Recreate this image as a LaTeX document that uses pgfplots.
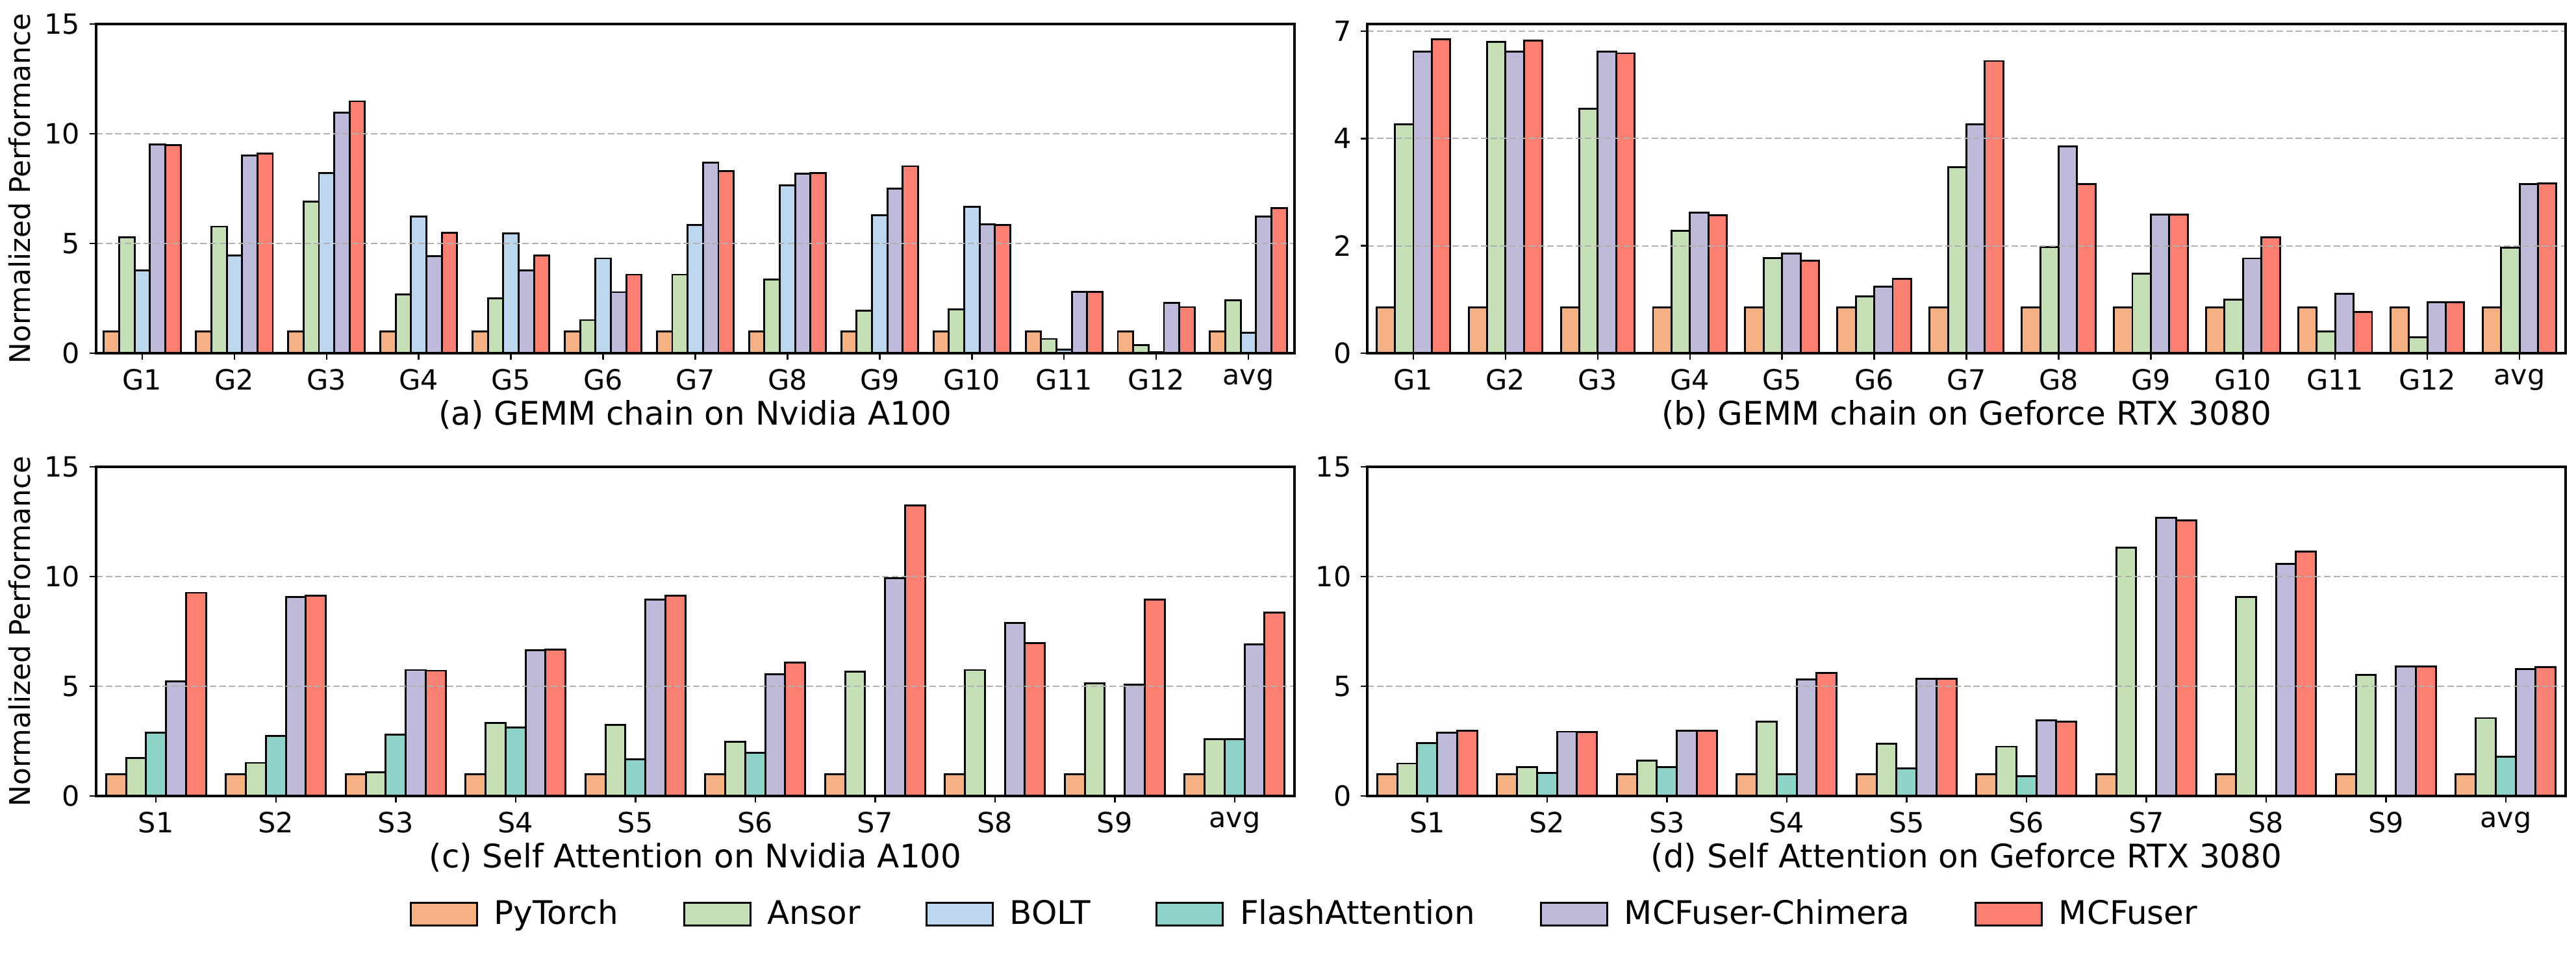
\documentclass[border=0pt]{standalone}
\usepackage{fontspec}
\setmainfont{DejaVu Sans}
\usepackage{pgfplots}
\usepackage{pgfplotstable}
\pgfplotsset{compat=1.18}

\definecolor{cPT}{HTML}{F4B183}
\definecolor{cAN}{HTML}{C5E0B4}
\definecolor{cBO}{HTML}{BDD7EE}
\definecolor{cFA}{HTML}{8DD3C7}
\definecolor{cCH}{HTML}{BEBADA}
\definecolor{cMC}{HTML}{FB8072}
\definecolor{gridgray}{HTML}{B0B0B0}

% (a) GEMM chain, A100
\pgfplotstableread{
x pt ansor bolt chim mcf
0 1 5.27 3.76 9.50 9.47
1 1 5.77 4.44 9.02 9.11
2 1 6.92 8.22 10.95 11.48
3 1 2.69 6.24 4.41 5.50
4 1 2.51 5.47 3.76 4.44
5 1 1.51 4.32 2.78 3.58
6 1 3.58 5.83 8.68 8.31
7 1 3.37 7.66 8.19 8.20
8 1 1.95 6.30 7.51 8.52
9 1 2.01 6.68 5.86 5.83
10 1 0.65 0.15 2.80 2.80
11 1 0.36 0.05 2.30 2.10
12 1 2.40 0.93 6.24 6.62
}\gemmA

% (b) GEMM chain, RTX 3080
\pgfplotstableread{
x pt ansor chim mcf
0 1 4.98 6.55 6.82
1 1 6.77 6.55 6.80
2 1 5.31 6.56 6.52
3 1 2.66 3.06 3.00
4 1 2.07 2.17 2.01
5 1 1.23 1.45 1.61
6 1 4.04 4.97 6.35
7 1 2.31 4.50 3.68
8 1 1.73 3.01 3.01
9 1 1.17 2.06 2.52
10 1 0.47 1.29 0.89
11 1 0.34 1.11 1.11
12 1 2.29 3.67 3.69
}\gemmB

% (c) Self attention, A100
\pgfplotstableread{
x pt ansor fa chim mcf
0 1 1.73 2.88 5.23 9.26
1 1 1.51 2.75 9.08 9.13
2 1 1.07 2.80 5.74 5.71
3 1 3.32 3.13 6.63 6.66
4 1 3.24 1.66 8.96 9.13
5 1 2.47 1.96 5.54 6.09
6 1 5.67 nan 9.92 13.24
7 1 5.74 nan 7.88 6.96
8 1 5.13 nan 5.08 8.95
9 1 2.58 2.60 6.91 8.36
}\attnA

% (d) Self attention, RTX 3080
\pgfplotstableread{
x pt ansor fa chim mcf
0 1 1.48 2.42 2.89 2.98
1 1 1.32 1.04 2.93 2.91
2 1 1.61 1.33 2.98 2.98
3 1 3.39 0.99 5.30 5.61
4 1 2.38 1.27 5.33 5.33
5 1 2.25 0.89 3.44 3.40
6 1 11.32 nan 12.68 12.55
7 1 9.06 nan 10.58 11.15
8 1 5.53 nan 5.89 5.89
9 1 3.55 1.78 5.79 5.86
}\attnB

\pgfplotsset{
  panel/.style={
    scale only axis, width=442.8pt, height=121.68pt,
    anchor=south west, ymin=0, enlarge x limits=false,
    axis on top, axis line style={line width=0.75pt},
    tick align=outside, xtick pos=left, ytick pos=left,
    major tick length=2.4pt, tick style={black, line width=0.6pt},
    ymajorgrids, major grid style={gridgray, line width=0.55pt, dash pattern=on 2.4pt off 1.1pt},
    tick label style={font=\fontsize{10.3}{12}\selectfont},
    /pgf/number format/assume math mode=true,
    every axis x label/.style={at={(axis description cs:0.5,-0.187)}, anchor=center},
    xlabel style={font=\fontsize{12}{14}\selectfont},
    every axis y label/.style={at={(axis description cs:-0.064,0.5)}, rotate=90, anchor=center},
    ylabel style={font=\fontsize{10.5}{12}\selectfont},
  },
  mybar/.style={ybar, draw=black, line width=0.7pt, bar width=0.1667},
  legpatch/.style={fill=#1, draw=black, line width=0.7pt,
    legend image code/.code={\draw[##1] (0pt,-4.3pt) rectangle (24.5pt,4.3pt);}},
}

\begin{document}
\begin{tikzpicture}
\useasboundingbox (0,0) rectangle (951.84pt,353.52pt);

\begin{axis}[panel, at={(35.52pt,222.96pt)},
  xmin=-0.5, xmax=12.5, xtick={0,...,12},
  xticklabels={G1,G2,G3,G4,G5,G6,G7,G8,G9,G10,G11,G12,avg},
  ymax=15, ytick={0,5,10,15},
  ylabel={Normalized Performance},
  xlabel={(a) GEMM chain on Nvidia A100}]
\addplot[mybar, fill=cPT, bar shift=-0.3333] table[x=x,y=pt]{\gemmA};
\addplot[mybar, fill=cAN, bar shift=-0.1667] table[x=x,y=ansor]{\gemmA};
\addplot[mybar, fill=cBO, bar shift=0] table[x=x,y=bolt]{\gemmA};
\addplot[mybar, fill=cCH, bar shift=0.1667] table[x=x,y=chim]{\gemmA};
\addplot[mybar, fill=cMC, bar shift=0.3333] table[x=x,y=mcf]{\gemmA};
\end{axis}

\begin{axis}[panel, at={(505.2pt,222.96pt)},
  xmin=-0.5, xmax=12.5, xtick={0,...,12},
  xticklabels={G1,G2,G3,G4,G5,G6,G7,G8,G9,G10,G11,G12,avg},
  ymax=7.155, ytick={0,2.3333,4.6667,7}, yticklabels={0,2,4,7},
  xlabel={(b) GEMM chain on Geforce RTX 3080}]
\addplot[mybar, bar width=0.2, fill=cPT, bar shift=-0.3] table[x=x,y=pt]{\gemmB};
\addplot[mybar, bar width=0.2, fill=cAN, bar shift=-0.1] table[x=x,y=ansor]{\gemmB};
\addplot[mybar, bar width=0.2, fill=cCH, bar shift=0.1] table[x=x,y=chim]{\gemmB};
\addplot[mybar, bar width=0.2, fill=cMC, bar shift=0.3] table[x=x,y=mcf]{\gemmB};
\end{axis}

\begin{axis}[panel, at={(35.52pt,59.28pt)},
  xmin=-0.5, xmax=9.5, xtick={0,...,9},
  xticklabels={S1,S2,S3,S4,S5,S6,S7,S8,S9,avg},
  ymax=15, ytick={0,5,10,15},
  ylabel={Normalized Performance},
  xlabel={(c) Self Attention on Nvidia A100},
  legend columns=6,
  legend style={at={(axis description cs:1.0098,-0.359)}, anchor=center,
    draw=none, fill=none, font=\fontsize{12}{14}\selectfont,
    /tikz/every odd column/.append style={column sep=4pt},
    /tikz/every even column/.append style={column sep=22pt}}]
\addplot[mybar, fill=cPT, bar shift=-0.3333, forget plot] table[x=x,y=pt]{\attnA};
\addplot[mybar, fill=cAN, bar shift=-0.1667, forget plot] table[x=x,y=ansor]{\attnA};
\addplot[mybar, fill=cFA, bar shift=0, forget plot] table[x=x,y=fa]{\attnA};
\addplot[mybar, fill=cCH, bar shift=0.1667, forget plot] table[x=x,y=chim]{\attnA};
\addplot[mybar, fill=cMC, bar shift=0.3333, forget plot] table[x=x,y=mcf]{\attnA};
\addlegendimage{legpatch=cPT}\addlegendentry{PyTorch}
\addlegendimage{legpatch=cAN}\addlegendentry{Ansor}
\addlegendimage{legpatch=cBO}\addlegendentry{BOLT}
\addlegendimage{legpatch=cFA}\addlegendentry{FlashAttention}
\addlegendimage{legpatch=cCH}\addlegendentry{MCFuser-Chimera}
\addlegendimage{legpatch=cMC}\addlegendentry{MCFuser}
\end{axis}

\begin{axis}[panel, at={(505.2pt,59.28pt)},
  xmin=-0.5, xmax=9.5, xtick={0,...,9},
  xticklabels={S1,S2,S3,S4,S5,S6,S7,S8,S9,avg},
  ymax=15, ytick={0,5,10,15},
  xlabel={(d) Self Attention on Geforce RTX 3080}]
\addplot[mybar, fill=cPT, bar shift=-0.3333] table[x=x,y=pt]{\attnB};
\addplot[mybar, fill=cAN, bar shift=-0.1667] table[x=x,y=ansor]{\attnB};
\addplot[mybar, fill=cFA, bar shift=0] table[x=x,y=fa]{\attnB};
\addplot[mybar, fill=cCH, bar shift=0.1667] table[x=x,y=chim]{\attnB};
\addplot[mybar, fill=cMC, bar shift=0.3333] table[x=x,y=mcf]{\attnB};
\end{axis}
\end{tikzpicture}
\end{document}
